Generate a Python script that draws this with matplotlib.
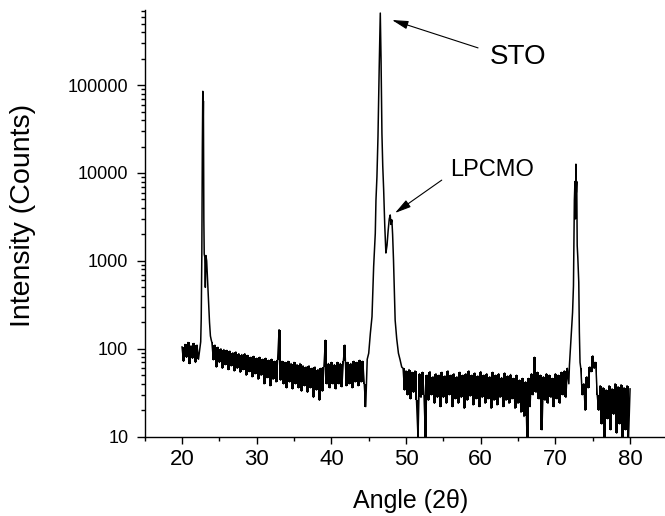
import numpy as np
import matplotlib
matplotlib.use("Agg")
import matplotlib.pyplot as plt
from matplotlib.ticker import FixedLocator, FuncFormatter, NullFormatter

plt.rcParams['font.family'] = ['Liberation Sans', 'DejaVu Sans']

# ---------------- data ----------------
# background segments sampled on a 0.2 deg scan grid (start angle, counts)
bg1_start = 20.0
bg1_counts = [105, 72, 112, 80, 118, 68, 108, 78, 115, 70, 110, 76, 104]

peak1_angle = [22.50, 22.57, 22.65, 22.72, 22.78, 22.82, 22.86, 22.92, 22.97,
               23.05, 23.12, 23.20, 23.30, 23.42, 23.55, 23.68, 23.80, 23.92]
peak1_counts = [120, 220, 1150, 20000, 85000, 30000, 66000, 3000, 1200,
                1100, 500, 1150, 1000, 600, 330, 200, 140, 125]

bg2_start = 24.0
bg2_counts = [118, 75, 110, 62, 104, 70, 100, 60, 98, 66,
              96, 58, 94, 64, 90, 56, 92, 60, 88, 54,
              86, 58, 88, 50, 84, 55, 80, 48, 82, 52,
              78, 45, 80, 50, 76, 40, 78, 47, 74, 38,
              76, 45, 72, 42, 74, 165, 44, 72, 40, 70,
              36, 72, 42, 68, 35, 70, 40, 66, 36, 68,
              33, 64, 38, 62, 32, 64, 36, 60, 28, 62,
              34, 58, 26, 60, 33, 62, 125, 40, 68, 36,
              70, 40, 66, 35, 70, 40, 68, 37, 72, 110,
              38, 70, 40, 68, 36, 72, 42, 70, 38, 74,
              42, 72, 40, 22, 76]

peak2_angle = [45.00, 45.22, 45.44, 45.66, 45.88, 45.97, 46.10, 46.24, 46.40,
               46.55, 46.65, 46.77, 46.88, 47.00, 47.15, 47.30, 47.45, 47.60,
               47.75, 47.88, 47.98, 48.10, 48.20, 48.32, 48.54, 48.75, 48.98,
               49.20, 49.42]
peak2_counts = [89, 150, 232, 859, 2060, 4900, 9000, 25700, 150000,
                660000, 200000, 28000, 12000, 6500, 2500, 1230, 1500, 2200,
                3000, 3330, 2600, 2930, 2000, 1020, 212, 130, 89,
                75, 62]

bg3_start = 49.6
bg3_counts = [60, 34, 56, 30, 58, 27, 54, 32, 56, 26,
              10, 52, 28, 54, 30, 10, 50, 26, 55, 30,
              48, 24, 52, 28, 50, 22, 54, 28, 49, 24,
              56, 30, 50, 22, 52, 27, 48, 24, 54, 28,
              50, 21, 52, 26, 56, 29, 50, 23, 53, 27,
              49, 22, 55, 28, 50, 24, 52, 27, 48, 21,
              54, 26, 50, 23, 52, 28, 47, 22, 53, 26,
              49, 24, 51, 27, 46, 21, 50, 24, 44, 19,
              46, 17, 42, 10, 46, 22, 52, 30, 80, 32,
              54, 27, 50, 12, 48, 26, 52, 24, 50, 28,
              46, 22, 52, 27, 50, 24, 54, 30, 56, 28,
              60, 40]

peak3_angle = [71.88, 72.10, 72.30, 72.42, 72.54, 72.62, 72.68, 72.75, 72.80,
               72.86, 72.92, 73.00, 73.13, 73.21, 73.30]
peak3_counts = [65, 137, 260, 520, 4900, 8000, 3000, 12600, 6000,
                8000, 1500, 1100, 575, 155, 70]

bg4_start = 73.4
bg4_counts = [60, 30, 40, 20, 48, 36, 62, 55, 83, 60,
              70, 30, 20, 38, 14, 36, 10, 34, 16, 38,
              12, 35, 18, 40, 11, 37, 14, 39, 10, 36,
              12, 38, 10, 35]

scan_step = 0.2

x_major = [20, 30, 40, 50, 60, 70, 80]
x_minor = [15, 25, 35, 45, 55, 65, 75, 85]
y_major = [10, 100, 1000, 10000, 100000]


def seg(start, counts):
    return [round(start + scan_step * i, 2) for i in range(len(counts))]


angle = (seg(bg1_start, bg1_counts) + peak1_angle + seg(bg2_start, bg2_counts)
         + peak2_angle + seg(bg3_start, bg3_counts) + peak3_angle
         + seg(bg4_start, bg4_counts))
counts = (bg1_counts + peak1_counts + bg2_counts + peak2_counts + bg3_counts
          + peak3_counts + bg4_counts)

# ---------------- figure ----------------
W, H = 665, 516
fig = plt.figure(figsize=(W / 100, H / 100), dpi=100)
ax_left, ax_bottom = 144.7, 516 - 436.7
ax_w, ax_h = 522.7, 436.7 - 10
ax = fig.add_axes([ax_left / W, ax_bottom / H, ax_w / W, ax_h / H])

# the densely sampled noisy background shows as a solid jagged band:
# fill the span swept between neighbouring readings
for st, cs in [(bg1_start, bg1_counts), (bg2_start, bg2_counts),
               (bg3_start, bg3_counts), (bg4_start, bg4_counts)]:
    xs = np.array(seg(st, cs))
    c = np.array(cs, dtype=float)
    lo = np.minimum(c[:-1], c[1:])
    hi = np.maximum(c[:-1], c[1:])
    ax.fill_between(xs[:-1], lo, hi, step='post', color='black', lw=0,
                    antialiased=False)
ax.plot(angle, counts, color='black', lw=1.1)

ax.set_yscale('log')
ax.set_xlim(15, 85)
ax.set_ylim(10, 10 ** (1 + 426.7 / 87.9))

ax.xaxis.set_major_locator(FixedLocator(x_major))
ax.xaxis.set_minor_locator(FixedLocator(x_minor))
ax.yaxis.set_major_locator(FixedLocator(y_major))
ymin_ticks = [m * 10 ** e for e in range(1, 6) for m in range(2, 10)]
ax.yaxis.set_minor_locator(FixedLocator(ymin_ticks))
ax.yaxis.set_major_formatter(FuncFormatter(lambda v, p: f'{int(round(v))}'))
ax.yaxis.set_minor_formatter(NullFormatter())

for s in ['top', 'right']:
    ax.spines[s].set_visible(False)
for s in ['left', 'bottom']:
    ax.spines[s].set_linewidth(1.0)
    ax.spines[s].set_zorder(5)

ax.tick_params(axis='x', which='major', direction='out', length=5, width=1.0,
               labelsize=16, pad=4)
ax.tick_params(axis='x', which='minor', direction='out', length=3, width=1.0)
ax.tick_params(axis='y', which='major', direction='out', length=5.8, width=1.0,
               labelsize=13, pad=6)
ax.tick_params(axis='y', which='minor', direction='out', length=3.2, width=1.0)

fig.text(23 / W, (H - 215) / H, 'Intensity (Counts)', rotation=90,
         ha='center', va='center', fontsize=20.5)
fig.text(410.8 / W, (H - 501) / H, 'Angle (2θ)', ha='center', va='center',
         fontsize=18)

arrow = dict(arrowstyle='-|>,head_length=0.7,head_width=0.18', color='black',
             lw=0.8, shrinkA=0, shrinkB=0, mutation_scale=14)
ax.annotate('', xy=(48.12, 5.5e5), xytext=(59.64, 2.65e5), arrowprops=arrow)
ax.annotate('', xy=(48.52, 3510), xytext=(54.78, 8300), arrowprops=arrow)
ax.text(61.25, 2.1e5, 'STO', fontsize=20, ha='left', va='center')
ax.text(55.89, 1.07e4, 'LPCMO', fontsize=17, ha='left', va='center')

fig.savefig('out.png', dpi=100)
